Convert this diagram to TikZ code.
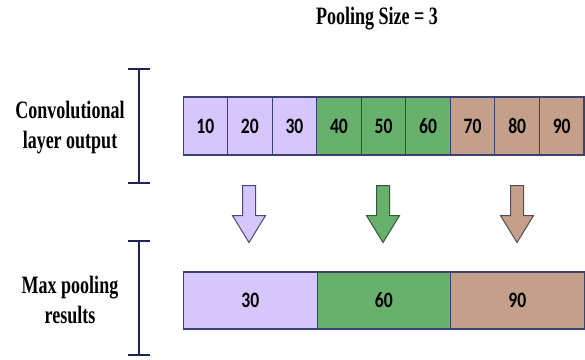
\documentclass[tikz,border=0pt]{standalone}
\usepackage{fontspec}
\setmainfont{Liberation Serif}
\newfontfamily\numfont{Carlito}
\usetikzlibrary{shapes.arrows}
\definecolor{lav}{HTML}{D6C6FB}
\definecolor{grn}{HTML}{67B16C}
\definecolor{tan}{HTML}{C4A08B}
\definecolor{edge}{HTML}{3B4270}
\definecolor{brk}{HTML}{1E2656}
\definecolor{lavd}{HTML}{4A4878}
\definecolor{grnd}{HTML}{2F5A3A}
\definecolor{tand}{HTML}{5A4A50}
\tikzset{
  cell/.style={draw=edge, line width=1.1pt, minimum height=58pt, inner sep=0pt, anchor=west,
    font=\numfont\bfseries\fontsize{22}{22}\selectfont},
  lbl/.style={align=center, font=\bfseries\fontsize{25}{30}\selectfont, transform shape, xscale=0.72, anchor=base},
  darrow/.style={single arrow, rotate=-90, minimum height=57pt, single arrow head extend=10pt,
    single arrow tip angle=63, inner sep=6pt, line width=1pt, anchor=tail},
  bracket/.style={draw=brk, line width=2.2pt}
}
\newcommand{\nn}[1]{\scalebox{0.8}[1]{#1}}
\begin{document}
\begin{tikzpicture}[x=1pt,y=-1pt]
\useasboundingbox (0,0) rectangle (585,359);
% title
\node[lbl] (title) at (377,24) {Pooling Size = 3};
% top row
\foreach \i/\v/\c in {0/10/lav,1/20/lav,2/30/lav,3/40/grn,4/50/grn,5/60/grn,6/70/tan,7/80/tan,8/90/tan}{
  \node[cell, fill=\c, minimum width=44.55pt] (t\i) at ({182.5+44.55*\i},126) {\nn{\v}};
}
% bottom row
\node[cell, fill=lav, minimum width=133.5pt, minimum height=57pt] (b0) at (183,300.5) {\nn{30}};
\node[cell, fill=grn, minimum width=133.5pt, minimum height=57pt] (b1) at (316.5,300.5) {\nn{60}};
\node[cell, fill=tan, minimum width=133.5pt, minimum height=57pt] (b2) at (450,300.5) {\nn{90}};
% arrows
\node[darrow, fill=lav, draw=lavd] (a0) at (249,185) {};
\node[darrow, fill=grn, draw=grnd] (a1) at (383,185) {};
\node[darrow, fill=tan, draw=tand] (a2) at (517,185) {};
% labels
\node[lbl] (l1) at (70,118) {Convolutional};
\node[lbl] (l1b) at (70,148) {layer output};
\node[lbl] (l2) at (70,293) {Max pooling};
\node[lbl] (l2b) at (70,323) {results};
% brackets
\coordinate (k1t) at (138.6,69);
\coordinate (k1b) at (138.6,183);
\coordinate (k2t) at (138.6,241);
\coordinate (k2b) at (138.6,355);
\draw[bracket] (k1t) -- (k1b);
\draw[bracket] ([xshift=-11pt]k1t) -- ([xshift=11pt]k1t);
\draw[bracket] ([xshift=-11pt]k1b) -- ([xshift=11pt]k1b);
\draw[bracket] (k2t) -- (k2b);
\draw[bracket] ([xshift=-11pt]k2t) -- ([xshift=11pt]k2t);
\draw[bracket] ([xshift=-11pt]k2b) -- ([xshift=11pt]k2b);
\end{tikzpicture}
\end{document}
